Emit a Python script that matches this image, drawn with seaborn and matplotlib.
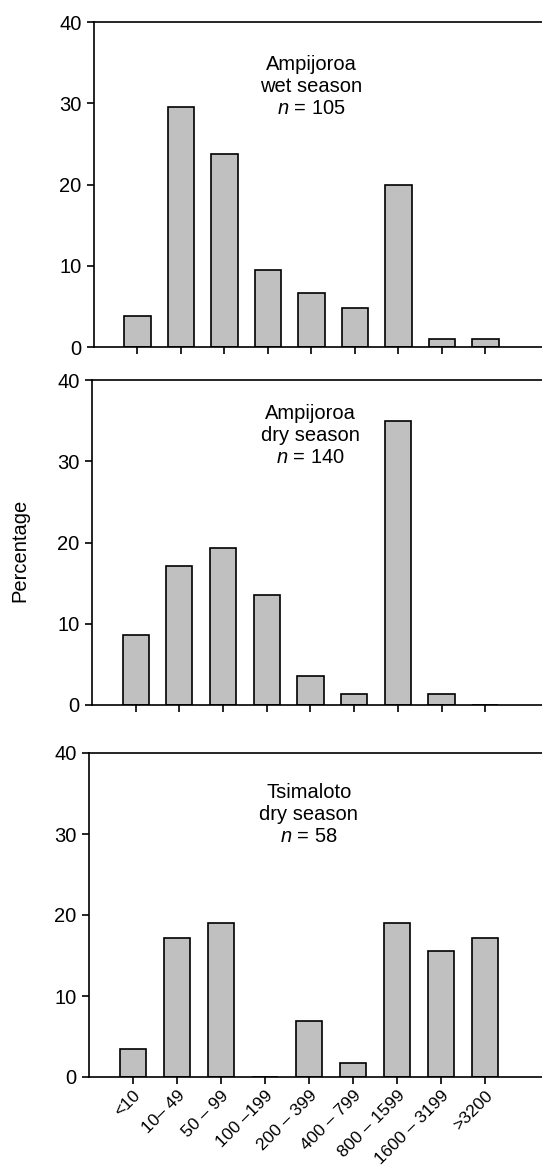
import matplotlib
matplotlib.use("Agg")
import matplotlib.pyplot as plt
import seaborn as sns

categories = ["<10", "10\u2013 49", "50 \u2013 99", "100 \u2013199", "200 \u2013 399",
              "400 \u2013 799", "800 \u2013 1599", "1600 \u2013 3199", ">3200"]
wet_ampijoroa = [3.8, 29.5, 23.8, 9.5, 6.7, 4.8, 20.0, 1.0, 1.0]
dry_ampijoroa = [8.6, 17.1, 19.3, 13.6, 3.6, 1.4, 35.0, 1.4, 0.0]
dry_tsimaloto = [3.4, 17.2, 19.0, 0.0, 6.9, 1.7, 19.0, 15.5, 17.2]
panel_labels = ["Ampijoroa\nwet season\n$n$ = 105",
                "Ampijoroa\ndry season\n$n$ = 140",
                "Tsimaloto\ndry season\n$n$ = 58"]
yticks = [0, 10, 20, 30, 40]

sns.set_style("ticks")
plt.rcParams["font.family"] = ["Liberation Sans", "DejaVu Sans"]
plt.rcParams["mathtext.fontset"] = "custom"
plt.rcParams["mathtext.it"] = "Liberation Sans:italic"
plt.rcParams["mathtext.rm"] = "Liberation Sans"
plt.rcParams["text.color"] = "black"

FS = 14.5
fig = plt.figure(figsize=(5.42, 11.70), dpi=100)
W, H = 542, 1170
boxes = [(94, 22, 347), (92, 380, 705), (89, 753, 1077)]
text_y = [0.80, 0.83, 0.81]
series = [wet_ampijoroa, dry_ampijoroa, dry_tsimaloto]

for i, ((left, top, bottom), vals) in enumerate(zip(boxes, series)):
    ax = fig.add_axes([left / W, 1 - bottom / H, 1 - left / W, (bottom - top) / H])
    sns.barplot(x=categories, y=vals, ax=ax, color="#c0c0c0", saturation=1,
                edgecolor="black", linewidth=1.2, width=0.6)
    ax.set_xlim(-1, 9.3)
    ax.set_ylim(0, 40)
    ax.set_yticks(yticks)
    ax.set_yticklabels([str(t) for t in yticks], fontsize=FS)
    for s in ["left", "bottom", "top"]:
        ax.spines[s].set_visible(True)
        ax.spines[s].set_linewidth(1.2)
        ax.spines[s].set_color("black")
    ax.spines["right"].set_visible(False)
    ax.tick_params(axis="both", direction="out", length=5, width=1.2, colors="black",
                   pad=4)
    ax.set_ylabel("")
    ax.set_xlabel("")
    ax.text(4.0, text_y[i], panel_labels[i], transform=ax.get_xaxis_transform(),
            ha="center", va="center", fontsize=FS, linespacing=1.2, color="black")
    if i < 2:
        ax.set_xticklabels([])
    else:
        ax.set_xticks(range(len(categories)))
        ax.set_xticklabels(categories, rotation=45, ha="right",
                           rotation_mode="anchor", fontsize=12.5)
        ax.tick_params(axis="x", pad=3)

fig.text(20 / W, 1 - 550 / H, "Percentage", rotation=90, ha="center", va="center",
         fontsize=FS, color="black")

fig.savefig("out.png", dpi=100)
